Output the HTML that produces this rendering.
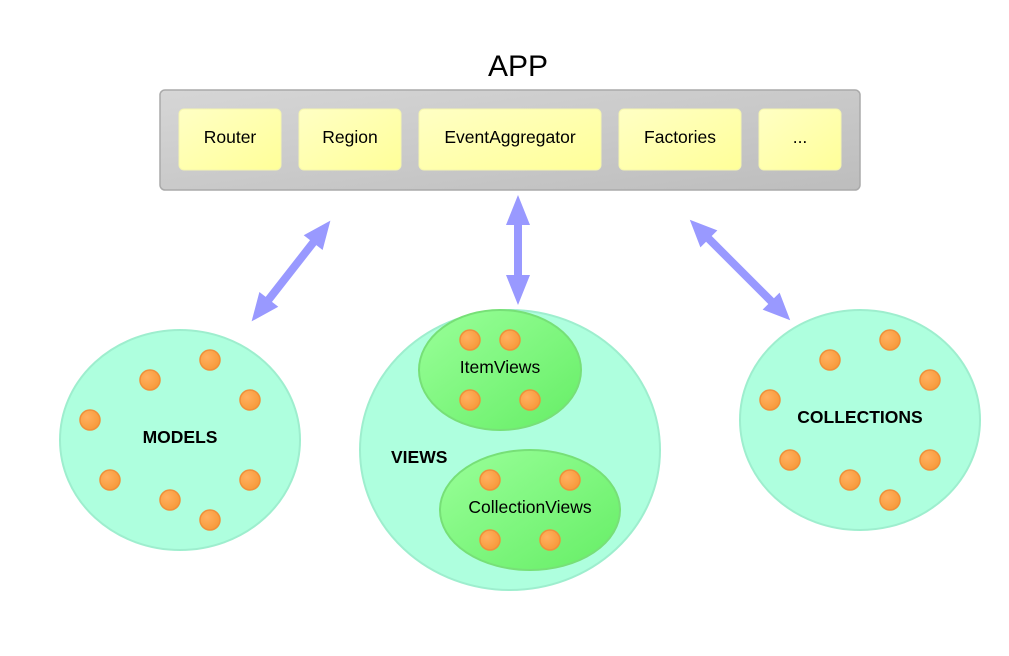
<!DOCTYPE html>
<html><head><style>body{margin:0;background:#fff}svg{display:block}</style></head>
<body>
<svg width="1009" height="656" viewBox="0 0 1009 656" xmlns="http://www.w3.org/2000/svg" font-family="Liberation Sans, sans-serif">
<defs>
<linearGradient id="g" x1="0" y1="0" x2="1" y2="1"><stop offset="0" stop-color="#d6d6d6"/><stop offset="1" stop-color="#bdbdbd"/></linearGradient>
<linearGradient id="y" x1="0" y1="0" x2="1" y2="1"><stop offset="0" stop-color="#ffffc4"/><stop offset="1" stop-color="#ffff99"/></linearGradient>
<linearGradient id="gr" x1="0" y1="0" x2="1" y2="1"><stop offset="0" stop-color="#99ff99"/><stop offset="1" stop-color="#66ee66"/></linearGradient>
<radialGradient id="o" cx="0.35" cy="0.35" r="0.7"><stop offset="0" stop-color="#ffb060"/><stop offset="1" stop-color="#f79a3a"/></radialGradient>
</defs>
<text x="518" y="76" font-size="30" text-anchor="middle">APP</text>
<rect x="160" y="90" width="700" height="100" rx="5" fill="url(#g)" stroke="#aaa" stroke-width="1.5"/>
<g fill="url(#y)" stroke="#f4f4b0">
<rect x="179" y="109" width="102" height="61" rx="5"/>
<rect x="299" y="109" width="102" height="61" rx="5"/>
<rect x="419" y="109" width="182" height="61" rx="5"/>
<rect x="619" y="109" width="122" height="61" rx="5"/>
<rect x="759" y="109" width="82" height="61" rx="5"/>
</g>
<g font-size="17.5" text-anchor="middle">
<text x="230" y="143">Router</text><text x="350" y="143">Region</text><text x="510" y="143">EventAggregator</text><text x="680" y="143">Factories</text><text x="800" y="143">...</text>
</g>
<g fill="#9999ff">
<g transform="translate(518,250)"><polygon points="0,-55 12,-25 4,-25 4,25 12,25 0,55 -12,25 -4,25 -4,-25 -12,-25"/></g>
<g transform="translate(291,271) rotate(38)"><polygon points="0,-64 12,-36 4,-36 4,36 12,36 0,64 -12,36 -4,36 -4,-36 -12,-36"/></g>
<g transform="translate(740,270) rotate(-45)"><polygon points="0,-71 12,-44 4,-44 4,44 12,44 0,71 -12,44 -4,44 -4,-44 -12,-44"/></g>
</g>
<g fill="#aaffdd" stroke="#99eecc" stroke-width="2" opacity="0.95">
<ellipse cx="180" cy="440" rx="120" ry="110"/>
<ellipse cx="510" cy="450" rx="150" ry="140"/>
<ellipse cx="860" cy="420" rx="120" ry="110"/>
</g>
<g fill="url(#gr)" stroke="#77e077" stroke-width="2">
<ellipse cx="500" cy="370" rx="81" ry="60"/>
<ellipse cx="530" cy="510" rx="90" ry="60"/>
</g>
<g fill="url(#o)" stroke="#ef8f3a" stroke-width="1.5">
<circle cx="210" cy="360" r="10"/><circle cx="150" cy="380" r="10"/><circle cx="250" cy="400" r="10"/><circle cx="90" cy="420" r="10"/>
<circle cx="110" cy="480" r="10"/><circle cx="250" cy="480" r="10"/><circle cx="170" cy="500" r="10"/><circle cx="210" cy="520" r="10"/>
<circle cx="470" cy="340" r="10"/><circle cx="510" cy="340" r="10"/><circle cx="470" cy="400" r="10"/><circle cx="530" cy="400" r="10"/>
<circle cx="490" cy="480" r="10"/><circle cx="570" cy="480" r="10"/><circle cx="490" cy="540" r="10"/><circle cx="550" cy="540" r="10"/>
<circle cx="890" cy="340" r="10"/><circle cx="830" cy="360" r="10"/><circle cx="930" cy="380" r="10"/><circle cx="770" cy="400" r="10"/>
<circle cx="790" cy="460" r="10"/><circle cx="930" cy="460" r="10"/><circle cx="850" cy="480" r="10"/><circle cx="890" cy="500" r="10"/>
</g>
<g font-size="17.5" font-weight="bold">
<text x="180" y="443" text-anchor="middle">MODELS</text>
<text x="391" y="463">VIEWS</text>
<text x="860" y="423" text-anchor="middle">COLLECTIONS</text>
</g>
<g font-size="17.5" text-anchor="middle">
<text x="500" y="373">ItemViews</text>
<text x="530" y="513">CollectionViews</text>
</g>
</svg>
</body></html>
